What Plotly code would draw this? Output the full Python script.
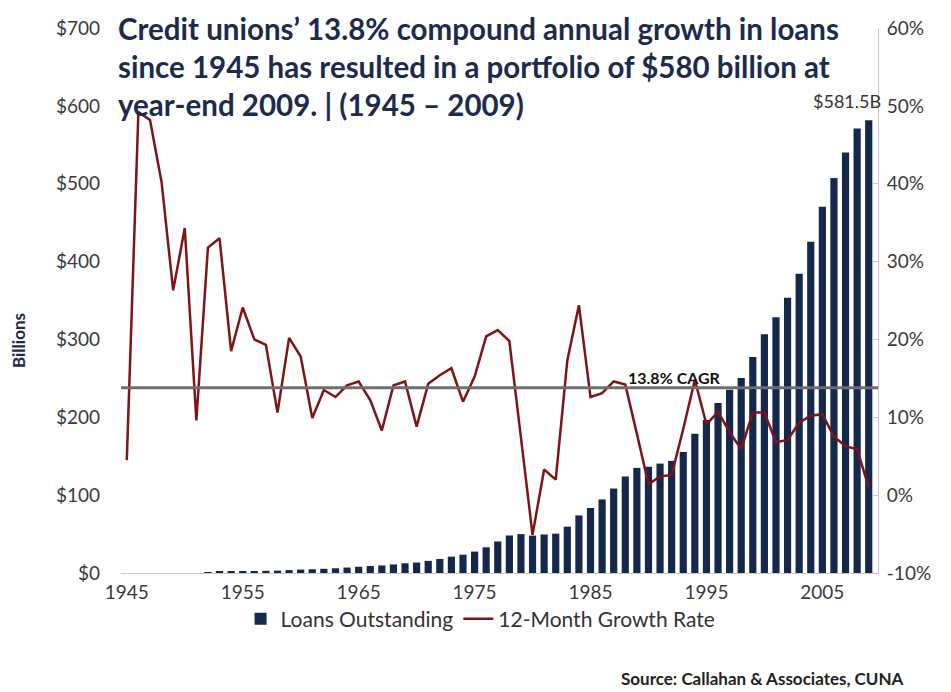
import plotly.graph_objects as go

years = list(range(1945, 2010))

# Loans outstanding, $ billions (no visible bars before 1952)
loans = [None, None, None, None, None, None, None, 1.0, 1.3, 1.6,
         2.0, 2.4, 2.8, 3.1, 3.7, 4.4, 4.8, 5.4, 6.1, 7.0,
         8.0, 9.0, 9.7, 11.0, 12.5, 13.5, 15.6, 18.0, 21.0, 23.5,
         27.5, 33.0, 40.5, 48.2, 50.0, 48.0, 49.5, 50.5, 59.5, 74.0,
         83.5, 94.5, 108.5, 124.0, 135.0, 136.5, 140.5, 144.0, 155.5, 179.0,
         196.5, 218.5, 235.5, 250.5, 277.5, 306.5, 328.5, 353.5, 384.5, 425.5,
         470.5, 507.5, 540.0, 571.0, 581.5]

# 12-month growth rate, %
growth = [4.5, 49.2, 48.2, 40.2, 26.3, 34.3, 9.6, 31.8, 33.0, 18.5,
          24.1, 20.0, 19.3, 10.6, 20.2, 17.8, 9.9, 13.5, 12.6, 14.1,
          14.6, 12.2, 8.3, 14.1, 14.6, 8.8, 14.3, 15.4, 16.3, 12.0,
          15.2, 20.4, 21.2, 19.8, 7.4, -5.1, 3.3, 2.0, 17.3, 24.4,
          12.6, 13.1, 14.6, 14.2, 7.9, 1.4, 2.4, 2.6, 8.5, 14.8,
          9.1, 10.7, 8.1, 5.9, 10.6, 10.6, 6.8, 7.1, 9.3, 10.2,
          10.4, 7.5, 6.3, 5.9, 1.0]

cagr = 13.8

left_ticks = [0, 100, 200, 300, 400, 500, 600, 700]
left_labels = ["$0", "$100", "$200", "$300", "$400", "$500", "$600", "$700"]
right_ticks = [-10, 0, 10, 20, 30, 40, 50, 60]
right_labels = ["-10%", "0%", "10%", "20%", "30%", "40%", "50%", "60%"]
x_ticks = [1945, 1955, 1965, 1975, 1985, 1995, 2005]

title_lines = ["Credit unions\u2019 13.8% compound annual growth in loans",
               "since 1945 has resulted in a portfolio of $580 billion at",
               "year-end 2009. | (1945 \u2013 2009)"]

NAVY = "#14284b"
RED = "#7d1517"
FONT = "Lato, 'Open Sans', sans-serif"

fig = go.Figure()
fig.add_trace(go.Bar(x=years, y=loans, name="Loans Outstanding",
                     marker=dict(color=NAVY, line=dict(width=0)),
                     width=0.62, yaxis="y"))
fig.add_trace(go.Scatter(x=years, y=growth, name="12-Month Growth Rate",
                         mode="lines", line=dict(color=RED, width=2.5),
                         yaxis="y2"))

# plot area: x 121..878, y 28..573
L, R, T, B = 121, 73, 28, 119
H = 692 - T - B

def py(pixel_y):
    return (692 - B - pixel_y) / H

annotations = []
for txt, cy in zip(title_lines, [28, 67, 105]):
    annotations.append(dict(text=txt, xref="paper", yref="paper",
                            x=(116 - L) / (951 - L - R), y=py(cy),
                            xanchor="left", yanchor="middle", showarrow=False,
                            font=dict(family=FONT, size=29.5, color="#1c2b4c",
                                      weight="bold")))
annotations.append(dict(text="<b>Billions</b>", xref="paper", yref="paper",
                        x=(18 - L) / (951 - L - R), y=py(340), textangle=-90,
                        xanchor="center", yanchor="middle", showarrow=False,
                        font=dict(family=FONT, size=17, color="#1c2b4c")))
annotations.append(dict(text="<b>%.1f%% CAGR</b>" % cagr, xref="x", yref="y2",
                        x=1988.1, y=cagr, xanchor="left", yanchor="bottom",
                        yshift=-1, showarrow=False,
                        font=dict(family=FONT, size=16, color="#111111")))
annotations.append(dict(text="$%.1fB" % loans[-1], xref="x", yref="y",
                        x=years[-1], y=loans[-1], xanchor="right",
                        yanchor="bottom", xshift=14, yshift=6, showarrow=False,
                        font=dict(family=FONT, size=18, color="#333333")))
annotations.append(dict(text="<b>Source: Callahan &amp; Associates, CUNA</b>",
                        xref="paper", yref="paper",
                        x=(906 - L) / (951 - L - R), y=py(678),
                        xanchor="right", yanchor="middle", showarrow=False,
                        font=dict(family=FONT, size=17, color="#222222")))

fig.update_layout(
    width=951, height=692,
    margin=dict(l=L, r=R, t=T, b=B, autoexpand=False),
    paper_bgcolor="white", plot_bgcolor="white",
    font=dict(family=FONT, color="#3a3a3a"),
    showlegend=True,
    legend=dict(orientation="h", x=0.475, xanchor="center", y=-0.047,
                yanchor="top", bgcolor="rgba(0,0,0,0)",
                font=dict(family=FONT, size=21, color="#333333"),
                itemwidth=30, tracegroupgap=0),
    bargap=0.38,
    xaxis=dict(range=[1944.5, 2009.8], tickvals=x_ticks,
               ticktext=[str(v) for v in x_ticks], showgrid=False,
               zeroline=False, showline=True, linecolor="#c8c8c8",
               linewidth=1, ticks="", tickfont=dict(size=19, color="#3a3a3a"),
               ticklabelstandoff=2),
    yaxis=dict(range=[0, 700], tickvals=left_ticks, ticktext=left_labels,
               showgrid=False, zeroline=False, showline=False, ticks="",
               tickfont=dict(size=19, color="#3a3a3a"), ticklabelstandoff=20),
    yaxis2=dict(range=[-10, 60], tickvals=right_ticks, ticktext=right_labels,
                overlaying="y", side="right", showgrid=False, zeroline=False,
                showline=True, linecolor="#c8c8c8", linewidth=1,
                ticks="inside", ticklen=5, tickcolor="#c8c8c8",
                tickfont=dict(size=19, color="#3a3a3a"), ticklabelstandoff=4),
    shapes=[dict(type="line", xref="paper", yref="y2", x0=0, x1=1,
                 y0=cagr, y1=cagr, line=dict(color="#6e6e6e", width=3),
                 layer="above")],
    annotations=annotations,
)

fig.write_html("out.html")
